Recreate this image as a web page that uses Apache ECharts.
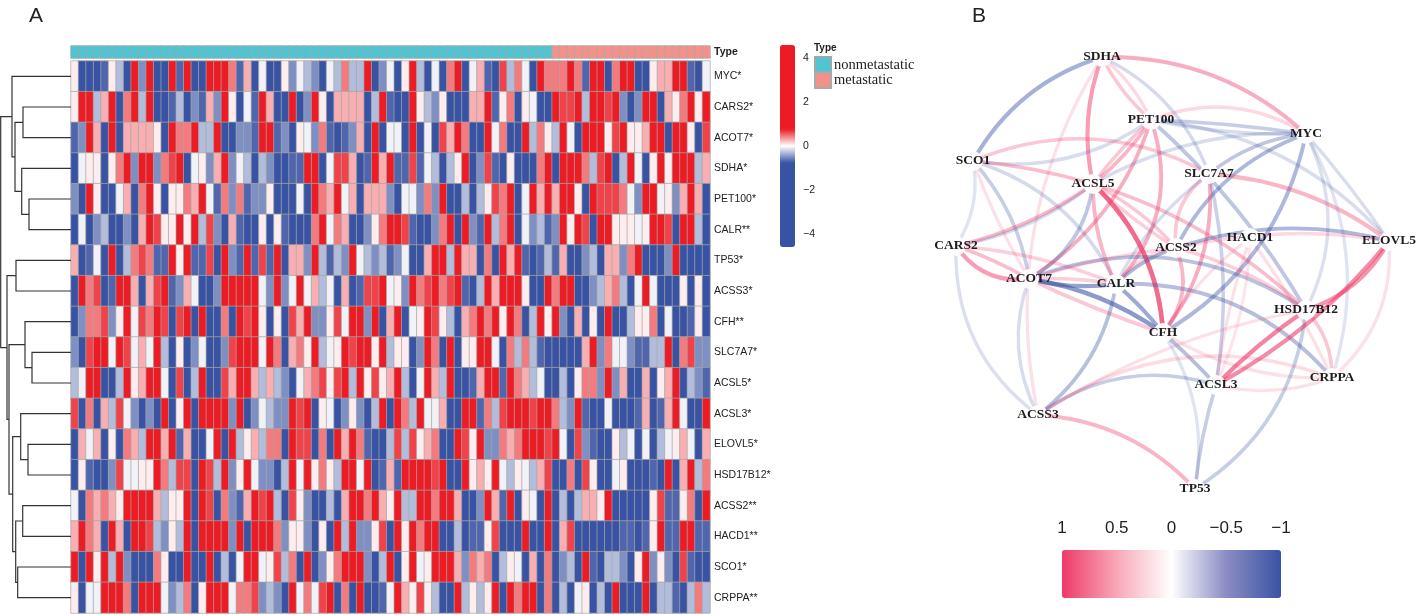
<!DOCTYPE html>
<html><head><meta charset="utf-8">
<style>html,body{margin:0;padding:0;background:#fff}#c{width:1417px;height:615px}</style>
<script src="https://cdn.jsdelivr.net/npm/echarts@6/dist/echarts.min.js"></script>
</head><body><div id="c"></div>
<script>
// expression levels
const B=-3, M=-.68, m=-.5, L=-.3, W=-.06, w=.06, P=.27, S=.45, O=.64, R=3;
const MYC=[w,B,B,B,M,w,L,B,R,m,R,B,B,R,M,R,B,B,R,R,R,S,M,P,B,W,B,B,w,m,W,L,m,B,W,L,S,L,L,R,B,m,W,B,w,R,L,B,W,B,S,R,B,W,P,M,B,O,L,S,W,B,R,S,S,S,R,S,M,R,R,B,S,R,R,B,B,w,P,P,R,R,M,B,W];
const CARS2=[w,R,R,L,P,R,B,S,R,L,R,B,B,M,L,B,m,M,P,m,R,w,B,W,M,R,P,B,B,R,B,m,R,w,B,P,P,P,P,B,L,R,M,B,B,R,w,L,m,w,B,B,B,P,P,R,M,w,S,B,w,W,B,B,R,O,O,R,L,R,R,O,R,m,B,m,R,R,B,P,w,S,R,w,R];
const ACOT7=[M,m,R,P,B,R,B,P,P,P,P,w,B,R,S,S,R,L,L,R,B,B,m,m,M,R,R,M,m,B,w,W,m,S,M,B,M,m,P,B,R,B,W,W,B,R,B,W,B,O,P,R,S,B,B,R,W,S,B,B,R,L,S,w,L,R,W,B,R,R,R,w,O,R,w,w,P,R,R,B,R,R,w,B,O];
const SDHA=[B,W,w,w,B,w,S,R,m,R,R,m,S,O,R,B,W,w,m,P,R,m,W,L,B,L,m,B,B,M,M,R,R,B,W,O,O,P,B,M,R,P,R,M,M,O,M,W,L,B,L,w,R,B,m,O,M,B,w,B,B,B,S,R,B,R,R,R,S,L,O,R,B,L,R,W,B,w,R,w,R,R,R,L,P];
const PET100=[m,B,R,w,B,B,W,P,B,S,R,w,B,w,w,S,P,R,W,M,S,m,S,M,m,m,w,B,B,B,W,B,R,S,P,R,W,P,B,P,P,P,m,B,W,W,m,S,m,R,B,B,L,B,L,w,O,S,R,B,W,R,P,R,P,R,R,w,B,R,O,O,O,S,W,m,R,R,W,w,m,P,R,P,B];
const CALR=[B,W,B,m,L,B,B,m,B,P,R,O,w,w,R,w,R,L,O,m,B,P,M,B,B,w,B,w,M,B,B,B,S,R,W,S,P,B,B,m,w,S,R,R,O,M,B,B,m,S,R,B,R,m,M,R,L,S,R,B,W,m,L,M,m,R,w,R,O,B,R,R,w,w,w,W,w,R,R,O,B,R,R,L,B];
const TP53=[P,B,M,W,B,R,B,L,S,O,S,M,M,R,w,R,M,M,O,B,R,m,M,R,M,O,M,R,B,P,P,m,R,L,M,L,m,R,W,L,m,L,M,m,W,B,B,P,R,R,L,R,P,P,B,S,B,R,P,R,M,B,M,L,M,P,B,B,m,L,B,P,P,m,S,R,B,B,B,m,R,B,B,B,B];
const ACSS3=[B,R,S,O,B,M,R,R,P,B,P,O,R,M,m,P,W,B,B,m,R,R,R,R,R,W,m,R,m,W,R,W,P,L,W,B,P,B,M,O,O,R,W,w,m,R,S,O,R,S,O,R,M,B,L,R,P,R,R,R,w,B,B,R,S,R,R,B,B,m,L,P,S,L,B,W,R,W,B,B,B,w,B,w,B];
const CFH=[B,m,S,S,O,m,w,R,W,O,S,R,O,B,O,R,B,R,B,B,S,B,R,O,R,w,B,w,B,O,P,R,m,m,w,O,W,R,R,m,R,B,P,R,B,W,w,R,O,w,L,B,P,S,R,S,R,w,R,S,B,L,R,w,R,m,B,P,B,w,B,R,B,B,L,w,w,S,B,W,B,B,M,w,B];
const SLC7A7=[m,B,O,R,R,W,R,O,W,P,W,R,L,B,w,B,m,W,B,B,m,O,R,R,R,W,R,S,B,P,S,w,R,L,W,w,R,O,R,R,w,R,L,w,w,B,m,R,S,B,R,B,w,w,R,R,W,B,S,L,S,L,M,B,B,B,B,B,P,R,m,S,W,W,m,M,M,L,L,R,B,S,O,m,m];
const ACSL5=[L,W,R,R,B,B,L,R,w,P,R,R,W,B,O,B,L,R,B,B,O,P,R,R,P,L,P,L,m,B,W,P,S,O,w,O,R,L,R,w,O,w,P,R,L,B,W,R,P,L,R,B,B,M,P,R,R,M,R,S,P,L,W,B,B,L,B,w,S,S,m,R,m,P,B,B,P,B,w,P,R,B,L,m,M];
const ACSL3=[O,B,S,B,P,L,O,W,m,B,m,B,R,B,w,R,B,R,R,R,R,m,R,B,m,W,L,m,m,R,O,R,B,w,W,B,m,w,m,B,L,R,B,R,S,L,R,W,W,P,B,B,R,R,M,S,L,O,R,R,R,O,R,R,S,L,m,R,M,B,B,W,B,B,B,M,P,B,M,P,R,W,B,B,R];
const ELOVL5=[B,P,W,P,B,w,B,S,P,L,R,R,P,R,M,P,B,B,W,R,B,R,L,w,P,L,S,S,B,R,O,O,B,S,B,R,P,R,S,M,B,B,L,O,L,O,w,P,S,B,B,R,O,w,R,m,m,S,P,S,R,R,R,O,R,W,B,O,m,M,B,B,w,L,W,B,W,B,L,W,w,P,W,B,P];
const HSD17B12=[B,w,M,B,B,m,O,W,W,w,w,R,S,L,O,O,B,R,O,L,R,m,w,R,W,m,m,B,L,R,W,R,w,S,w,L,R,R,W,R,B,M,P,M,R,R,R,R,O,R,B,B,R,w,P,w,R,W,L,w,W,L,P,O,B,B,S,B,O,w,B,B,W,w,B,B,B,M,B,R,B,P,R,L,S];
const ACSS2=[W,B,S,P,S,P,w,R,R,R,R,P,L,w,w,R,B,R,O,B,S,m,M,P,R,O,R,L,B,O,w,m,B,B,L,B,P,R,R,S,R,P,w,R,L,L,R,R,S,R,R,P,B,B,m,R,P,M,R,B,w,W,B,R,B,L,B,L,P,P,w,R,B,B,B,B,B,w,O,M,M,w,S,B,R];
const HACD1=[P,R,S,P,B,R,P,B,R,R,O,L,m,w,L,R,B,R,R,R,R,m,R,B,R,R,R,S,m,w,w,m,B,w,B,R,L,R,m,m,w,O,B,R,w,R,S,R,R,B,B,L,B,M,M,w,O,B,B,B,R,B,B,R,B,P,O,B,B,B,B,B,B,M,M,B,M,w,R,M,M,R,R,M,M];
const SCO1=[R,B,R,w,R,L,R,m,B,B,B,S,w,B,B,R,B,B,R,B,L,B,W,R,R,W,w,O,L,S,B,R,B,m,w,S,R,R,R,m,B,L,R,B,w,R,W,w,R,R,R,P,m,S,P,S,B,L,w,W,B,P,B,S,B,m,L,B,R,M,B,L,L,m,B,w,R,m,w,m,B,O,M,B,B];
const CRPPA=[w,B,W,W,R,R,R,S,B,R,R,R,W,m,L,S,B,w,R,R,R,W,S,S,O,m,L,m,B,R,W,S,W,O,R,B,S,B,R,B,B,M,W,R,P,w,O,w,L,B,B,R,L,w,L,w,R,B,R,S,R,R,B,S,B,L,B,W,w,B,L,B,R,B,B,B,R,B,L,L,M,B,L,S,L];
const heatRows=[MYC,CARS2,ACOT7,SDHA,PET100,CALR,TP53,ACSS3,CFH,SLC7A7,ACSL5,ACSL3,ELOVL5,HSD17B12,ACSS2,HACD1,SCO1,CRPPA];
const rowLabels=['MYC*','CARS2*','ACOT7*','SDHA*','PET100*','CALR**','TP53*','ACSS3*','CFH**','SLC7A7*','ACSL5*','ACSL3*','ELOVL5*','HSD17B12*','ACSS2**','HACD1**','SCO1*','CRPPA**'];
const nonmetastaticCount=64, metastaticCount=21;
const typeNames=['nonmetastatic','metastatic'];
const heatTicks=[-4,-2,0,2,4];
const corrTicks=[-1,-0.5,0,0.5,1];
// row clustering: [left, right, height]; index >= 18 refers to merge (index-18)
const merges=[[1,2,48],[4,5,42],[3,19,49.3],[18,20,56],[0,21,59],[6,7,55],[9,10,39],[8,24,46],[12,13,43],[11,26,50.3],[14,15,48.3],[16,17,53.3],[28,29,55.3],[27,30,58.3],[25,31,62],[23,32,64],[22,33,70.3]];
// network
const nodeNames=['SDHA','PET100','MYC','SCO1','SLC7A7','ACSL5','CARS2','HACD1','ELOVL5','ACSS2','ACOT7','CALR','HSD17B12','CFH','ACSL3','CRPPA','ACSS3','TP53'];
const nodeX=[182,231,386,53,289,173,36,330,469,256,109,196,386,243,296,412,118,275];
const nodeY=[27,90,104,131,144,154,216,208,211,218,249,254,280,303,355,348,385,459];
const edges=[
['SDHA','SCO1',-.5],['SDHA','MYC',.45],['SDHA','ACSL5',.55],['SDHA','PET100',.3],['SDHA','PET100',.2],['SDHA','ACSS3',.15],['SDHA','SLC7A7',-.22],
['PET100','MYC',-.3],['PET100','MYC',-.2],['PET100','MYC',.2],['PET100','ELOVL5',-.2],['PET100','HSD17B12',-.35],['PET100','ACSL5',.4],['PET100','ACSL5',.3],['PET100','ACOT7',.45],['PET100','CALR',.45],['PET100','SCO1',-.2],
['SCO1','SLC7A7',.3],['SCO1','ACSL5',.35],['SCO1','CARS2',-.15],['SCO1','ACOT7',-.3],['SCO1','ACOT7',.15],['SCO1','CALR',-.22],
['ACSL5','MYC',-.2],['ACSS2','MYC',-.45],['SLC7A7','MYC',-.35],['MYC','CFH',-.45],['MYC','HSD17B12',-.18],['MYC','ELOVL5',-.2],['MYC','CRPPA',-.15],
['SLC7A7','ELOVL5',.4],['SLC7A7','CFH',.45],['SLC7A7','ACSS2',.3],['SLC7A7','CALR',-.2],['SLC7A7','ACSL3',-.28],
['ACSL5','CARS2',.4],['ACSL5','CARS2',-.2],['ACSL5','ACOT7',-.35],['ACSL5','CALR',.4],['ACSL5','CFH',.85],['ACSL5','ACSS2',.3],['ACSL5','ACSS2',.25],['ACSL5','HSD17B12',.35],
['CARS2','ACOT7',.55],['CARS2','ACOT7',.35],['CARS2','CALR',.25],['CARS2','ACSS3',-.18],
['ACOT7','ACSS3',-.2],['ACOT7','CALR',-.6],['ACOT7','CALR',.25],['ACOT7','CFH',-.65],['ACOT7','CFH',.3],['ACOT7','HSD17B12',-.38],['ACOT7','ACSS2',.2],
['CALR','ACSS3',-.4],['CALR','ACSS2',-.45],['CALR','ACSS2',.2],['CALR','CFH',-.55],['CALR','CRPPA',-.4],
['CFH','TP53',-.15],['CFH','ACSL3',-.4],['ACSS2','CFH',.4],['ACSS2','ELOVL5',-.45],['ACSS2','ELOVL5',.2],
['ELOVL5','HSD17B12',.6],['ELOVL5','ACSL3',.65],['HSD17B12','ACSL3',.7],['ACSL3','ACSS3',-.3],['ACSL3','TP53',-.3],['HSD17B12','TP53',-.3],
['ACSS3','TP53',.4],['ACSS3','CRPPA',.18],['ACSS3','HSD17B12',.15],['HSD17B12','CRPPA',.3],['ELOVL5','CRPPA',.15],['ACSL3','CRPPA',.15],
['HACD1','ACSL3',.15],['HACD1','CFH',.15],['HACD1','CRPPA',.15],['HACD1','ACSL3',.12],['CFH','CRPPA',.15],['ACSS2','HSD17B12',.25]];
const edgeBends=[-.2,.2,-.15,-.1,.12,-.2,.2,.03,-.06,.25,.2,.08,.08,-.05,.18,.3,.2,.24,.05,.2,.15,-.05,.22,.15,.2,.15,.22,.25,.03,.22,.15,.2,-.3,-.12,.1,.1,.13,.25,-.12,.2,.1,-.05,.12,-.3,.05,.08,-.26,-.22,-.1,.05,.12,-.03,.26,.05,.2,.12,.2,.05,.24,.2,.03,.3,.15,.1,.2,.1,-.05,-.25,-.05,.24,.2,.26,.1,.2,.25,-.15,-.05,-.1,.05,.1,-.15,.1];

const SANS='"Liberation Sans",Arial,sans-serif', SERIF='"Liberation Serif","Times New Roman",serif';
const BLUE='#3953a4', RED='#ed1c24', TEAL='#4fc4d2', SALMON='#f4908a', ROSE='#ee3a68';
const nCols=MYC.length, cols=Array.from({length:nCols},(_,i)=>i);
const heatData=[];
heatRows.forEach((r,y)=>r.forEach((v,x)=>heatData.push([x,y,v])));
const annot0=cols.slice(0,nonmetastaticCount).map(x=>[x,0,0]);
const annot1=cols.slice(nonmetastaticCount,nonmetastaticCount+metastaticCount).map(x=>[x,0,1]);
// dendrogram links
const pos=[];const dendro=[];
function at(id){return id<18?[id,0]:pos[id-18];}
merges.forEach(([a,b,h])=>{const[pa,ha]=at(a),[pb,hb]=at(b);
  dendro.push({coords:[[ha,pa],[h,pa],[h,pb],[hb,pb]]});pos.push([(pa+pb)/2,h]);});
const nodes=nodeNames.map((n,i)=>({name:n,value:[nodeX[i],nodeY[i]]}));
const links=edges.map(([s,t,r],i)=>({source:s,target:t,lineStyle:{color:r>0?ROSE:BLUE,opacity:.03+.85*Math.abs(r),width:3+2*Math.abs(r),curveness:edgeBends[i]}}));
const minus=v=>String(v).replace('-','\u2212');
const off={show:false};
const option={
 animation:false,backgroundColor:'#fff',
 title:[
  {text:'A',left:24,top:1,textStyle:{fontFamily:SANS,fontSize:21,fontWeight:'normal',color:'#222'}},
  {text:'B',left:967,top:1,textStyle:{fontFamily:SANS,fontSize:21,fontWeight:'normal',color:'#222'}},
  {text:'Type',left:814,top:43,padding:0,textStyle:{fontFamily:SANS,fontSize:10,fontWeight:'bold',color:'#222'}}],
 legend:{data:typeNames,orient:'vertical',left:814,top:56,padding:0,itemWidth:16,itemHeight:15.5,itemGap:-2,icon:'rect',selectedMode:false,
  textStyle:{fontFamily:SERIF,fontSize:14.5,lineHeight:15,color:'#222',padding:[0,0,0,-2]}},
 grid:[
  {left:71,top:61,width:639,height:552},
  {left:71,top:46,width:639,height:12},
  {left:0,top:61,width:71,height:552},
  {left:920,top:30,width:480,height:500},
  {left:780,top:45,width:15,height:202},
  {left:1062,top:550,width:219,height:48}],
 xAxis:[
  {type:'category',gridIndex:0,data:cols,...off},
  {type:'category',gridIndex:1,data:cols,...off},
  {type:'value',gridIndex:2,min:0,max:71,inverse:true,...off},
  {type:'value',gridIndex:3,min:0,max:480,...off},
  {type:'value',gridIndex:4,min:0,max:1,...off},
  {type:'value',gridIndex:5,min:-1,max:1,inverse:true,position:'top',axisLine:off,axisTick:off,splitLine:off,
   axisLabel:{customValues:corrTicks,formatter:minus,fontFamily:SANS,fontSize:17,color:'#222',margin:13}}],
 yAxis:[
  {type:'category',gridIndex:0,data:rowLabels,inverse:true,position:'right',axisLine:off,axisTick:off,splitLine:off,
   axisLabel:{interval:0,fontFamily:SANS,fontSize:10.5,color:'#222',margin:4}},
  {type:'category',gridIndex:1,data:['Type'],position:'right',axisLine:off,axisTick:off,splitLine:off,
   axisLabel:{fontFamily:SANS,fontSize:10.5,fontWeight:'bold',color:'#222',margin:4}},
  {type:'value',gridIndex:2,min:-.5,max:17.5,inverse:true,...off},
  {type:'value',gridIndex:3,min:0,max:500,inverse:true,...off},
  {type:'value',gridIndex:4,min:-4.6,max:4.6,position:'right',axisLine:off,axisTick:off,splitLine:off,
   axisLabel:{customValues:heatTicks,formatter:minus,fontFamily:SANS,fontSize:10.5,color:'#222',margin:8}},
  {type:'value',gridIndex:5,min:0,max:1,...off}],
 visualMap:[
  {type:'continuous',seriesIndex:0,dimension:2,min:-4.6,max:4.6,left:780,top:45,itemWidth:15,itemHeight:202,padding:0,calculable:false,text:null,showLabel:false,
   inRange:{color:[BLUE,BLUE,BLUE,BLUE,BLUE,BLUE,'#ffffff',RED,RED,RED,RED,RED,RED]},textStyle:{fontSize:0,color:'transparent'}},
  {type:'piecewise',show:false,seriesIndex:[1,2],dimension:2,pieces:[{value:0,color:TEAL},{value:1,color:SALMON}]},
  {type:'continuous',seriesIndex:5,orient:'horizontal',inverse:true,min:-1,max:1,left:1062,top:550,itemWidth:48,itemHeight:219,padding:0,calculable:false,
   inRange:{color:[BLUE,'#8a8cc3','#ffffff','#f8a8b8',ROSE]},textStyle:{fontSize:0,color:'transparent'}}],
 series:[
  {type:'heatmap',xAxisIndex:0,yAxisIndex:0,data:heatData,silent:true,progressive:0,itemStyle:{borderColor:'#a6a6a6',borderWidth:.7}},
  {type:'heatmap',name:typeNames[0],xAxisIndex:1,yAxisIndex:1,data:annot0,silent:true,itemStyle:{color:TEAL,borderColor:'#9aa',borderWidth:.8}},
  {type:'heatmap',name:typeNames[1],xAxisIndex:1,yAxisIndex:1,data:annot1,silent:true,itemStyle:{color:SALMON,borderColor:'#aaa',borderWidth:.8}},
  {type:'lines',coordinateSystem:'cartesian2d',xAxisIndex:2,yAxisIndex:2,polyline:true,silent:true,data:dendro,lineStyle:{color:'#333',width:1.2,opacity:1}},
  {type:'graph',coordinateSystem:'cartesian2d',xAxisIndex:3,yAxisIndex:3,data:nodes,links:links,symbol:'circle',symbolSize:20,silent:true,
   itemStyle:{color:'#fff',opacity:.95},label:{show:true,position:'inside',fontFamily:SERIF,fontWeight:'bold',fontSize:13.5,color:'#111'},emphasis:{disabled:true}},
  {type:'scatter',xAxisIndex:5,yAxisIndex:5,data:[],silent:true}]
};
echarts.init(document.getElementById('c')).setOption(option);
</script></body></html>
